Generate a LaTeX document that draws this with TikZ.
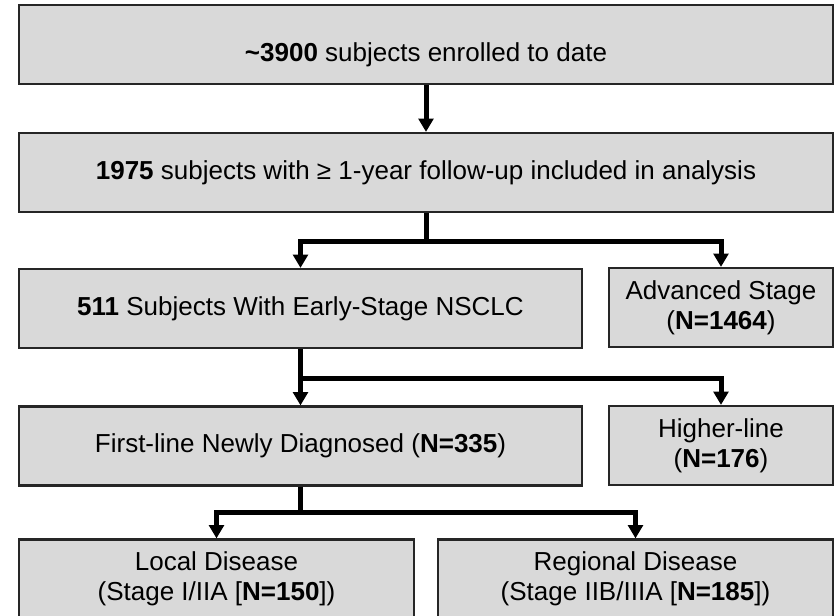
\documentclass[tikz,border=0pt]{standalone}
\usepackage{fontspec}
\setmainfont{Liberation Sans}
\usetikzlibrary{arrows.meta}
\usetikzlibrary{positioning}

\begin{document}
\begin{tikzpicture}
	[x=0.75pt, y=-0.75pt,
	> = {Triangle[width=11pt,length=10pt]},
	every node/.style={font=\fontsize{19.5}{22.5}\selectfont},
	box/.style = {draw=black!85, line width=1.6pt, fill=gray!30, align=center, inner sep=0pt, minimum height=59.25pt},
	conn/.style = {line width=3.75pt, ->}
	]
	\useasboundingbox (0,0) rectangle (836,615);

	\node[box, minimum width=610.5pt, text height=31pt, text depth=5pt] (enrolled) at (426,44.5) {\textbf{\textasciitilde3900} subjects enrolled to date};
	\node[box, minimum width=610.5pt] (analysed) at (426,172.5) {\textbf{1975} subjects with ≥ 1-year follow-up included in analysis};
	\node[box, minimum width=422.25pt] (early) at (300.5,308.5) {\textbf{511} Subjects With Early-Stage NSCLC};
	\node[box, minimum width=168pt] (advanced) at (721,307.5) {Advanced Stage\\(\textbf{N=1464})};
	\node[box, minimum width=422.25pt] (firstline) at (300.5,446) {First-line Newly Diagnosed (\textbf{N=335})};
	\node[box, minimum width=168pt] (higher) at (721,445.5) {Higher-line\\(\textbf{N=176})};
	\node[box, minimum width=296.25pt] (local) at (216.5,579) {Local Disease\\(Stage I/IIA [\textbf{N=150}])};
	\node[box, minimum width=296.25pt] (regional) at (635.5,579) {Regional Disease\\(Stage IIB/IIIA [\textbf{N=185}])};

	\draw[conn] (enrolled) -- (analysed);
	\draw[conn] (analysed.south) -- ++(0,28) -| (early.north);
	\draw[conn] (analysed.south) -- ++(0,28) -| (advanced.north);
	\draw[conn] (early) -- (firstline);
	\draw[conn] (early.south) -- ++(0,29) -| (higher.north);
	\draw[conn] (firstline.south) -- ++(0,26) -| (local.north);
	\draw[conn] (firstline.south) -- ++(0,26) -| (regional.north);
\end{tikzpicture}
\end{document}
